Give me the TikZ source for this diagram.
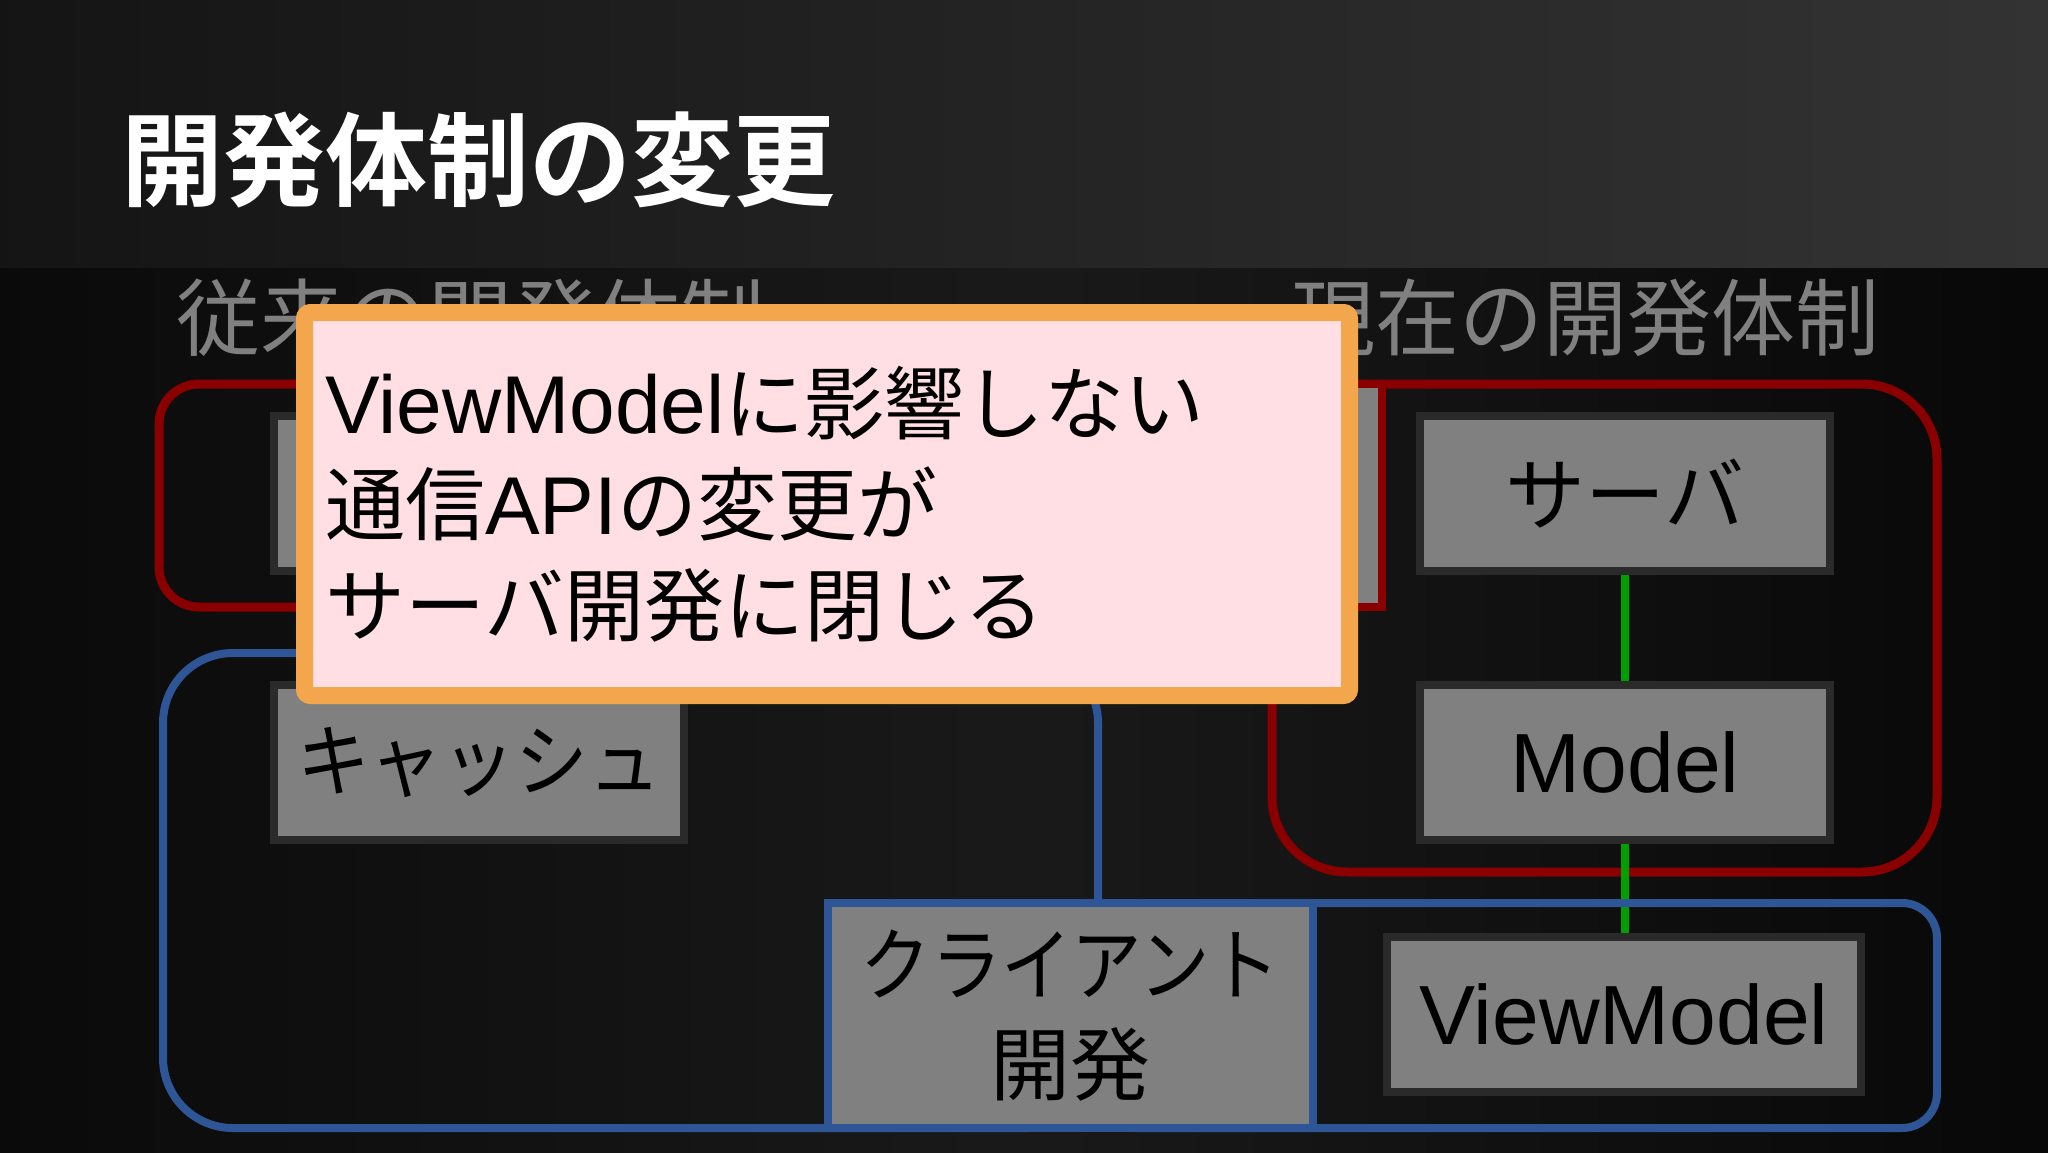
\documentclass[tikz,border=0pt]{standalone}
\usepackage{fontspec}
\usepackage{xcolor}
\setmainfont{Liberation Sans}
\newfontfamily\jp{Noto Sans CJK JP}[BoldFont={Noto Sans CJK JP Bold}]
\newcommand{\narrowkana}[2]{{\addfontfeature{FakeStretch=#1}#2}}
\usepackage{tikz}
\usetikzlibrary{calc}

\definecolor{regionred}{HTML}{8A0000}
\definecolor{regionblue}{HTML}{2E5596}
\definecolor{linkgreen}{HTML}{00A000}
\definecolor{boxgray}{HTML}{808080}
\definecolor{boxedge}{HTML}{2A2A2A}
\definecolor{headgray}{HTML}{808080}
\definecolor{noteorange}{HTML}{F4A64C}
\definecolor{notepink}{HTML}{FFDFE3}

\begin{document}
\begin{tikzpicture}[x=1pt,y=-1pt,
	region/.style={line width=8pt, rounded corners=70pt},
	part/.style={rectangle, fill=boxgray, draw=boxedge, line width=8pt, inner sep=0pt,
		minimum width=410pt, minimum height=155pt, font=\jp\fontsize{80}{96}\selectfont},
	team/.style={rectangle, fill=boxgray, line width=8pt, inner sep=0pt, align=center,
		minimum width=485pt, minimum height=225pt, font=\jp\fontsize{80}{100}\selectfont},
	heading/.style={anchor=base west, inner sep=0pt, text=headgray, font=\jp\fontsize{84}{100}\selectfont},
	msg/.style={anchor=base west, inner sep=0pt, font=\fontsize{82}{100}\selectfont},
	link/.style={draw=linkgreen, line width=8pt}]

	% background
	\useasboundingbox (0,0) rectangle (2048,1152);
	\shade[left color=black!92, right color=black!80] (0,0) rectangle (2048,268);
	\shade[left color=black!96, right color=black!97, middle color=black!90] (0,268) rectangle (2048,1152);

	\node[anchor=base west, inner sep=0pt, text=white, font=\jp\bfseries\fontsize{102}{120}\selectfont] (title) at (121,198) {開発体制の変更};
	\node[heading] (oldhead) at (176,349) {従来の開発体制};
	\node[heading] (nowhead) at (1291,349) {現在の開発体制};

	% server side
	\draw[region, draw=regionred, line width=9pt, rounded corners=40pt] (159,384) rectangle (1100,607);
	\draw[region, draw=regionred, line width=9pt, rounded corners=75pt] (1272,384) rectangle (1937,872);

	\begin{scope}[every node/.style={part}]
		\node (oldsrv) at (479,493.5) {};
		\node (srv) at (1625,493.5) {サーバ};
		\node[font=\fontsize{84}{100}\selectfont] (mdl) at (1625,762) {Model};
	\end{scope}
	\node[team, draw=regionred, minimum height=223pt] (srvdev) at (1139.5,495.5) {};

	\coordinate (vmtop) at (1625,933);
	\draw[link] (srv) -- (mdl);
	\draw[link] (mdl) -- (vmtop);

	% client side
	\draw[region, draw=regionblue] (163,653) rectangle (1098,1128);
	\draw[region, draw=regionblue, rounded corners=35pt] (1100,903) rectangle (1937,1128);

	\begin{scope}[every node/.style={part}]
		\node (cache) at (479,762.5) {\narrowkana{0.91}{キャッシュ}};
		\node[minimum width=474pt, font=\fontsize{84}{100}\selectfont] (vm) at (1624,1014.5) {ViewModel};
	\end{scope}
	\node[team, draw=regionblue] (clidev) at (1070.5,1015.5) {\narrowkana{0.88}{クライアント}\\開発};

	% note
	\node[rectangle, draw=noteorange, fill=notepink, line width=17pt, rounded corners=6pt,
		minimum width=1045pt, minimum height=383pt, inner sep=0pt] (note) at (827,504) {};
	\node[msg] (msgA) at (325,433) {ViewModel{\jp\fontsize{80}{100}\selectfont に影響しない}};
	\node[msg] (msgB) at ($(msgA.base west)+(0,101)$) {{\jp\fontsize{80}{100}\selectfont 通信}API{\jp\fontsize{80}{100}\selectfont の変更が}};
	\node[msg] (msgC) at ($(msgB.base west)+(0,101)$) {\jp\fontsize{80}{100}\selectfont サーバ開発に閉じる};

\end{tikzpicture}
\end{document}
